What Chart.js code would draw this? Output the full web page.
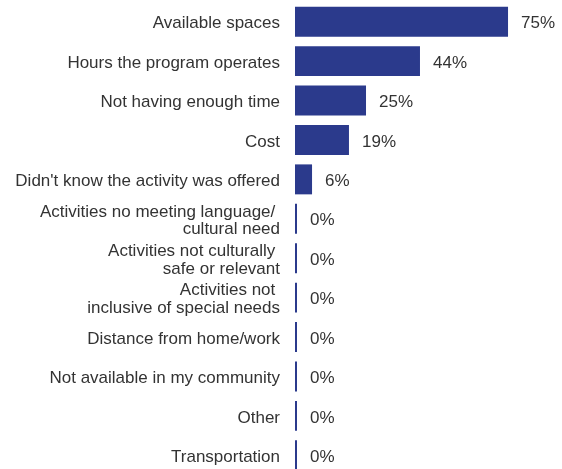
<!DOCTYPE html>
<html>
<head>
<meta charset="utf-8">
<script src="https://cdn.jsdelivr.net/npm/chart.js@4"></script>
<style>
  html, body { margin: 0; padding: 0; background: #fff; overflow: hidden; }
  #wrap { width: 562px; height: 475px; }
</style>
</head>
<body>
<div id="wrap"><canvas id="chart" width="562" height="475"></canvas></div>
<script>
// categories and values
const labels = [
    'Available spaces',
    'Hours the program operates',
    'Not having enough time',
    'Cost',
    "Didn't know the activity was offered",
    ['Activities no meeting language/ ', 'cultural need'],
    ['Activities not culturally ', 'safe or relevant'],
    ['Activities not ', 'inclusive of special needs'],
    'Distance from home/work',
    'Not available in my community',
    'Other',
    'Transportation'
];
const values = [75, 44, 25, 19, 6, 0, 0, 0, 0, 0, 0, 0];

// draw the % after each bar
const valueLabels = {
    id: 'valueLabels',
    afterDatasetsDraw(chart) {
        const ctx = chart.ctx;
        const meta = chart.getDatasetMeta(0);
        ctx.save();
        ctx.font = '17px "Liberation Sans", Arial, sans-serif';
        ctx.fillStyle = '#333';
        ctx.textAlign = 'left';
        ctx.textBaseline = 'middle';
        meta.data.forEach((bar, i) => {
            const x = Math.max(bar.x, chart.chartArea.left + 2);
            ctx.fillText(values[i] + '%', x + 13, bar.y + 2);
        });
        ctx.restore();
    }
};

const chart = document.querySelector('#chart').getContext('2d');

new Chart(chart, {
    type: 'bar',
    data: {
        labels: labels,
        datasets: [
            {
                data: values,
                backgroundColor: '#2b3a8c',
                barPercentage: 0.76,
                categoryPercentage: 1,
                minBarLength: 2
            }
        ]
    },
    options: {
        indexAxis: 'y',
        responsive: false,
        animation: false,
        layout: { padding: { top: 2, right: 0, bottom: 0, left: 0 } },
        plugins: {
            legend: { display: false },
            tooltip: { enabled: false }
        },
        scales: {
            x: {
                display: false,
                min: 0,
                max: 94
            },
            y: {
                afterFit(scale) {
                    scale.width = 295;
                    scale.paddingTop = 0;
                    scale.paddingBottom = 0;
                },
                grid: { display: false, drawTicks: false },
                border: { display: false },
                ticks: {
                    autoSkip: false,
                    color: '#333',
                    padding: 15,
                    labelOffset: 2,
                    font: { family: '"Liberation Sans", Arial, sans-serif', size: 17, lineHeight: 1.05 }
                }
            }
        }
    },
    plugins: [valueLabels]
});
</script>
</body>
</html>
